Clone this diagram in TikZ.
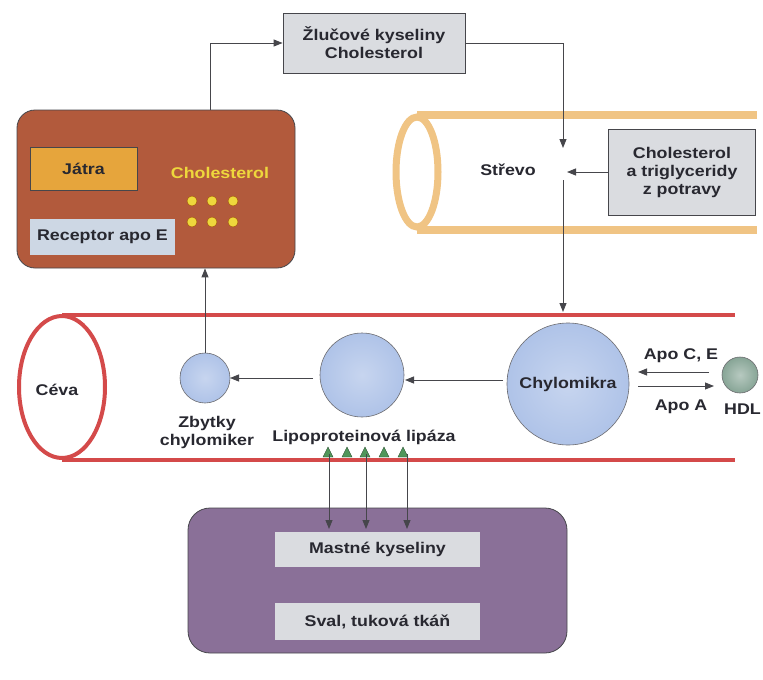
\documentclass[tikz,border=0pt]{standalone}
\usepackage{fontspec}
\setmainfont[FakeStretch=1.15]{Liberation Sans}
\usetikzlibrary{arrows.meta}
\definecolor{liver}{RGB}{178,90,60}
\definecolor{jatra}{RGB}{230,165,60}
\definecolor{recep}{RGB}{205,215,228}
\definecolor{greybox}{RGB}{218,220,224}
\definecolor{gut}{RGB}{240,196,132}
\definecolor{vessel}{RGB}{212,74,74}
\definecolor{ball}{RGB}{175,195,232}
\definecolor{hdlc}{RGB}{135,165,150}
\definecolor{musc}{RGB}{138,112,152}
\definecolor{tri}{RGB}{80,150,90}
\definecolor{txt}{RGB}{40,40,48}
\definecolor{chol}{RGB}{238,215,60}
\definecolor{line}{RGB}{70,70,75}
\begin{document}
\begin{tikzpicture}[x=1pt,y=-1pt,
  font=\fontsize{15.5}{18}\selectfont\bfseries,
  every node/.style={text=txt},
  rbox/.style={draw=line, line width=0.8pt, rounded corners=18pt},
  sbox/.style={draw=line, line width=0.8pt, fill=greybox, align=center, inner sep=0pt},
  ballc/.style={circle, draw=line!80, line width=0.6pt, inner sep=0pt, inner color=ball!70!white, outer color=ball},
  conn/.style={draw=line, line width=0.9pt, -{Triangle[length=9pt,width=7pt]}},
  dot/.style={circle, fill=chol, draw=orange!60!black, line width=0.3pt, inner sep=0pt, minimum size=10pt},
  tri/.style={fill=tri, draw=tri!50!black, line width=0.4pt}
]
\useasboundingbox (0,0) rectangle (763,680);
\fill[white] (0,0) rectangle (763,680);

% Intestine
\draw[gut, line width=8pt] (417,115) -- (757,115);
\draw[gut, line width=8pt] (417,230) -- (757,230);
\filldraw[gut, fill=white, line width=7pt] (417,172) ellipse [x radius=21, y radius=55];
\node (strevo) at (508,170) {Střevo};

% Vessel
\draw[vessel, line width=4pt] (62,315) -- (735,315);
\draw[vessel, line width=4pt] (62,460) -- (735,460);
\filldraw[vessel, fill=white, line width=4pt] (62,387) ellipse [x radius=43, y radius=71];
\node (ceva) at (57,390) {Céva};

% Liver
\node[rbox, fill=liver, minimum width=278pt, minimum height=158pt] (liverbox) at (156,189) {};
\node[draw=line, line width=0.8pt, fill=jatra, minimum width=107pt, minimum height=43pt] (jatra) at (83.5,168.5) {Játra};
\node[fill=recep, minimum width=145pt, minimum height=36pt] (recep) at (102.5,237) {Receptor apo E};
\node[text=chol] (cholL) at (220,173) {Cholesterol};
\foreach \i/\x in {1/192,2/212,3/233}{
  \node[dot] (da\i) at (\x,201) {};
  \node[dot] (db\i) at (\x,222) {};
}

% Top box
\node[sbox, minimum width=182pt, minimum height=60pt] (zluc) at (374,43) {Žlučové kyseliny\\Cholesterol};
% Food box
\node[sbox, minimum width=147pt, minimum height=86pt] (food) at (682,172) {Cholesterol\\a triglyceridy\\z potravy};

% Balls
\node[ballc, minimum size=50pt] (zb) at (205,378) {};
\node[ballc, minimum size=84pt] (mid) at (362,375) {};
\node[ballc, minimum size=122pt] (chylo) at (568,384) {Chylomikra};
\node[circle, draw=line!80, line width=0.6pt, inner sep=0pt, minimum size=36pt, inner color=hdlc!60!white, outer color=hdlc] (hdl) at (740,375) {};
\node[anchor=east, inner sep=0pt] (hdllab) at (761,409) {HDL};

\node[align=center] (zblab) at (207,432) {Zbytky\\chylomiker};
\node (lpl) at (364,437) {Lipoproteinová lipáza};
\foreach \x in {328,347,365,384,403}{
  \filldraw[tri] (\x-5,457) -- (\x+5,457) -- (\x,447) -- cycle;
}

% Muscle
\node[rbox, fill=musc, rounded corners=22pt, minimum width=379pt, minimum height=145pt] (muscle) at (377.5,580.5) {};
\node[fill=greybox, minimum width=205pt, minimum height=35pt] (mastne) at (377.5,549.5) {Mastné kyseliny};
\node[fill=greybox, minimum width=205pt, minimum height=37pt] (sval) at (377.5,621.5) {Sval, tuková tkáň};

% Connectors
\coordinate (lt) at (210,110);
\coordinate (bend) at (563,43);
\draw[conn] (lt) |- (zluc.west);
\coordinate (gin) at (563,148);
\coordinate (gout) at (563,180);
\coordinate (gin2) at (567,172);
\draw[conn] (zluc.east) -- (bend) -- (gin);
\draw[conn] (food.west) -- (gin2);
\coordinate (vtop) at (563,312);
\draw[conn] (gout) -- (vtop);
\coordinate (cw) at (503,380);
\coordinate (me) at (405,380);
\coordinate (mw) at (313,378);
\coordinate (ze) at (230,378);
\draw[conn] (cw) -- (me);
\draw[conn] (mw) -- (ze);
\draw[conn] (zb.north) -- (zb.north |- liverbox.south);
\coordinate (ceL) at (638,372);
\coordinate (ceR) at (709,372);
\coordinate (aL) at (638,386);
\coordinate (aR) at (714,386);
\draw[conn] (ceR) -- (ceL);
\draw[conn] (aL) -- (aR);
\node (apoce) at (681,356) {Apo C, E};
\node (apoa) at (681,407) {Apo A};
\foreach \x in {329,366,407}{
  \draw[conn] (\x,454) -- (\x, 529);
}
\end{tikzpicture}
\end{document}
